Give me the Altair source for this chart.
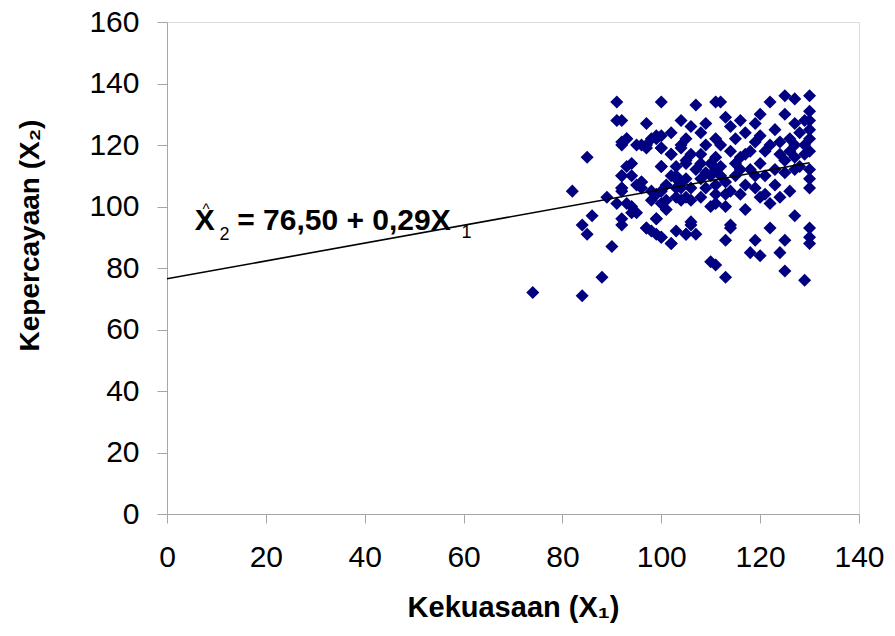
import altair as alt
import pandas as pd

# scatter data: Kekuasaan (X1) vs Kepercayaan (X2)
x1 = [74, 84, 88, 90, 85, 84, 86, 92, 91, 91, 85, 82, 92, 92, 92, 89, 91,
      100, 107, 111, 92, 97, 104, 106, 109, 99, 93, 98, 96, 97, 100, 102, 104, 106, 109, 108, 92, 94, 100, 105, 110, 110, 95, 96, 102, 104, 108, 106, 109, 100, 98, 103,
      93, 94, 97, 98, 100, 102, 103, 105, 107, 106, 99, 101, 98, 104, 106, 108, 110, 110,
      112, 122, 125, 127, 130, 120, 125, 130, 130, 113, 114, 119, 123, 127, 130, 120, 115, 111, 130, 124, 126, 129, 130, 118, 117, 116, 124, 125, 127, 129, 111, 112, 115, 116, 111, 113, 119, 121, 125, 127, 130, 130, 130, 117, 121, 113,
      111, 113, 117, 122, 120, 127, 114, 114, 122, 130, 130, 130, 113, 119, 125, 118, 120, 124, 111, 113, 125, 129,
      92, 96, 99, 103, 104, 105, 100, 92, 94, 95, 97, 99, 100, 102, 99, 106, 105, 93, 95, 97, 99, 100, 100, 102, 104, 105, 100, 93, 92, 94, 103, 105, 92, 96,
      101, 103, 107, 108, 109, 111, 112, 111, 114, 115, 116, 118, 119, 120, 121, 122, 123, 123, 124, 126, 126, 127, 128, 128, 129, 119, 117, 116, 114, 112, 108, 105, 102, 103, 101]
x2 = [72, 71, 77, 87, 91, 94, 97, 94, 134, 128, 116, 105, 120, 110, 106, 103, 101,
      134, 133, 134, 128, 127, 128, 126, 127, 123, 122, 122, 120, 119, 119, 117, 120, 117, 120, 117, 121, 114, 113, 114, 114, 110, 107, 108, 110, 108, 109, 106, 106, 105, 105, 106,
      101, 98, 93, 92, 90, 88, 92, 91, 91, 94, 96, 99, 102, 102, 102, 103, 100, 82,
      134, 134, 136, 135, 136, 130, 130, 131, 128, 129, 126, 127, 125, 127, 125, 123, 122, 122, 122, 121, 122, 120, 118, 118, 117, 116, 117, 115, 116, 117, 116, 113, 114, 112, 112, 108, 110, 110, 111, 112, 112, 109, 106, 107, 104, 104,
      101, 100, 99, 101, 103, 97, 94, 93, 93, 93, 90, 88, 89, 89, 89, 85, 84, 85, 81, 77, 79, 76,
      105, 108, 104, 110, 106, 103, 101, 96, 100, 98, 93, 91, 90, 88, 96, 95, 91, 122, 120, 120, 122, 123, 119, 117, 119, 115, 113, 113, 110, 110, 109, 109, 106, 106,
      107, 113, 112, 114, 111, 107, 110, 104, 105, 110, 104, 112, 106, 114, 118, 120, 112, 107, 103, 105, 118, 120, 113, 124, 128, 121, 124, 128, 118, 120, 124, 122, 124, 103, 102]

# regression line X2 = 76,50 + 0,29 X1
line_x = [0, 130]
line_y = [76.5, 114.2]

FONT = "Liberation Sans"
AXIS_GRAY = "#a6a6a6"

pts = pd.DataFrame({"x1": x1, "x2": x2})
ln = pd.DataFrame({"x1": line_x, "x2": line_y})

xs = alt.Scale(domain=[0, 140], nice=False, zero=False)
ys = alt.Scale(domain=[0, 160], nice=False, zero=False)

xaxis = alt.Axis(values=[0, 20, 40, 60, 80, 100, 120, 140], grid=False,
                 domainColor=AXIS_GRAY, tickColor=AXIS_GRAY, tickSize=9,
                 labelFont=FONT, labelFontSize=30, labelColor="black",
                 labelPadding=19, labelFlush=False, labelOverlap=False,
                 title="Kekuasaan (X₁)", titleFont=FONT, titleFontSize=29,
                 titleFontWeight="bold", titleColor="black", titlePadding=21)
yaxis = alt.Axis(values=[0, 20, 40, 60, 80, 100, 120, 140, 160], grid=False,
                 domainColor=AXIS_GRAY, tickColor=AXIS_GRAY, tickSize=10,
                 labelFont=FONT, labelFontSize=30, labelColor="black",
                 labelPadding=18, labelFlush=False, labelOverlap=False,
                 title="Kepercayaan (X₂)", titleFont=FONT, titleFontSize=28,
                 titleFontWeight="bold", titleColor="black",
                 titleAngle=270, titleBaseline="middle",
                 titleX=-137, titleY=213)

scatter = alt.Chart(pts).mark_point(shape="diamond", filled=True, size=170,
                                    color="#000080", opacity=1).encode(
    x=alt.X("x1:Q", scale=xs, axis=xaxis),
    y=alt.Y("x2:Q", scale=ys, axis=yaxis),
)

line = alt.Chart(ln).mark_line(color="black", strokeWidth=1.6).encode(
    x=alt.X("x1:Q", scale=xs),
    y=alt.Y("x2:Q", scale=ys),
)

# equation annotation pieces (positions in data units)
eq_main = pd.DataFrame({"x1": [5.6, 14.2], "x2": [92.4, 92.4], "t": ["X", "= 76,50 + 0,29X"]})
eq_sub = pd.DataFrame({"x1": [10.6, 59.6], "x2": [89.0, 89.6], "t": ["2", "1"]})
eq_hat = pd.DataFrame({"x1": [7.9], "x2": [97.6], "t": ["^"]})

t_main = alt.Chart(eq_main).mark_text(font=FONT, fontSize=30, fontWeight="bold",
                                      align="left", baseline="alphabetic", color="black").encode(
    x=alt.X("x1:Q", scale=xs), y=alt.Y("x2:Q", scale=ys), text="t:N")
t_sub = alt.Chart(eq_sub).mark_text(font=FONT, fontSize=18, align="left",
                                    baseline="alphabetic", color="black").encode(
    x=alt.X("x1:Q", scale=xs), y=alt.Y("x2:Q", scale=ys), text="t:N")
t_hat = alt.Chart(eq_hat).mark_text(font=FONT, fontSize=15, align="center",
                                    baseline="alphabetic", color="black").encode(
    x=alt.X("x1:Q", scale=xs), y=alt.Y("x2:Q", scale=ys), text="t:N")

chart = alt.layer(scatter, line, t_main, t_sub, t_hat).properties(
    width=692, height=492,
    autosize=alt.AutoSizeParams(type="none"),
    padding={"left": 167, "top": 22, "right": 36, "bottom": 122},
).configure_view(stroke=None).configure(background="white")

chart.save("out.html", embed_options={"renderer": "svg", "actions": False})
